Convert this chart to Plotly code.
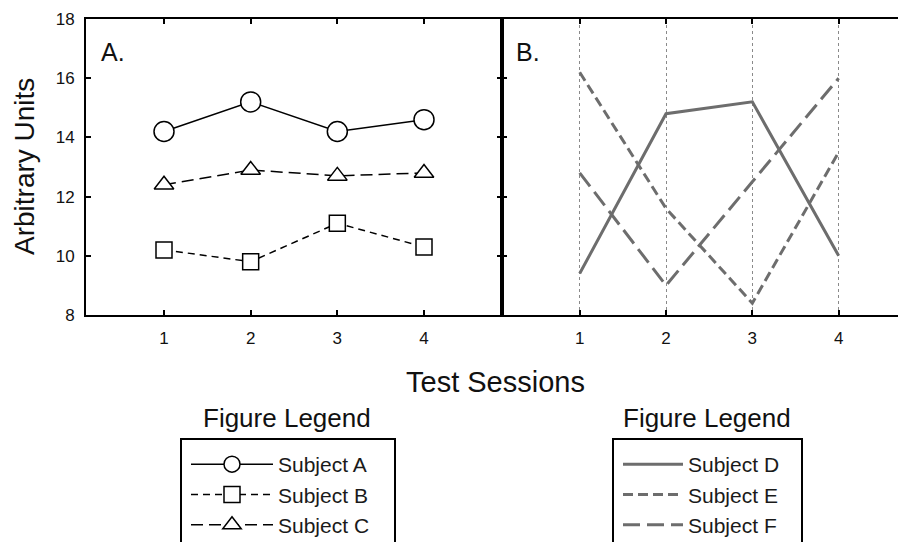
import plotly.graph_objects as go

# page offset: the browser body adds an 8px margin around the figure
OFF = 8
W, H = 906 - OFF, 542 - OFF
L, T, R, B = 86, 19, 906, 315  # plot area in page px

sessions = [1, 2, 3, 4]
subject_a = [14.2, 15.2, 14.2, 14.6]
subject_b = [10.2, 9.8, 11.1, 10.3]
subject_c = [12.4, 12.9, 12.7, 12.8]
subject_d = [9.4, 14.8, 15.2, 10.0]
subject_e = [16.2, 11.6, 8.4, 13.5]
subject_f = [12.8, 9.0, 12.5, 16.0]
y_ticks = [8, 10, 12, 14, 16, 18]

def px(x):
    return (x - L) / (R - L)

def py(y):
    return (B - y) / (B - T)

def cx(x):
    return (x - OFF) / W

def cy(y):
    return 1 - (y - OFF) / H

split = px(502)
FONT = "Liberation Sans, Arial, sans-serif"
GRAY = "#6d6d6d"

fig = go.Figure()

mk = dict(color="white", line=dict(color="black", width=1.5))
fig.add_trace(go.Scatter(x=sessions, y=subject_a, name="Subject A", mode="lines+markers",
                         line=dict(color="black", width=1.5),
                         marker=dict(symbol="circle", size=20, **mk), xaxis="x", yaxis="y", legend="legend"))
fig.add_trace(go.Scatter(x=sessions, y=subject_b, name="Subject B", mode="lines+markers",
                         line=dict(color="black", width=1.5, dash="7px,5px"),
                         marker=dict(symbol="square", size=16, **mk), xaxis="x", yaxis="y", legend="legend"))
fig.add_trace(go.Scatter(x=sessions, y=subject_c, name="Subject C", mode="lines+markers",
                         line=dict(color="black", width=1.5, dash="12px,6px"),
                         marker=dict(symbol="triangle-up", size=17, **mk), xaxis="x", yaxis="y", legend="legend"))

fig.add_trace(go.Scatter(x=sessions, y=subject_d, name="Subject D", mode="lines",
                         line=dict(color=GRAY, width=3), xaxis="x2", yaxis="y2", legend="legend2"))
fig.add_trace(go.Scatter(x=sessions, y=subject_e, name="Subject E", mode="lines",
                         line=dict(color=GRAY, width=3, dash="10px,5px"), xaxis="x2", yaxis="y2", legend="legend2"))
fig.add_trace(go.Scatter(x=sessions, y=subject_f, name="Subject F", mode="lines",
                         line=dict(color=GRAY, width=3, dash="17px,7px"), xaxis="x2", yaxis="y2", legend="legend2"))

axis_common = dict(showline=True, linecolor="black", linewidth=2, ticks="inside", ticklen=5,
                   tickwidth=2, tickcolor="black", zeroline=False,
                   tickfont=dict(family=FONT, size=17, color="#111"))

fig.update_layout(
    width=W, height=H,
    margin=dict(l=L - OFF, r=0, t=T - OFF, b=H - (B - OFF), autoexpand=False),
    paper_bgcolor="white", plot_bgcolor="white",
    font=dict(family=FONT, color="black"),
    xaxis=dict(domain=[0, split], range=[0.1, 4.9], tickvals=sessions, mirror="ticks",
               showgrid=False, ticklabelstandoff=7, **axis_common),
    yaxis=dict(domain=[0, 1], range=[8, 18], tickvals=y_ticks, mirror="ticks",
               showgrid=False, ticklabelstandoff=6, **axis_common),
    xaxis2=dict(domain=[split, 1], range=[0.1, 4.78], tickvals=sessions, mirror="ticks",
                showgrid=True, gridcolor="#8a8a8a", gridwidth=1, griddash="dot",
                ticklabelstandoff=7, anchor="y2", **axis_common),
    yaxis2=dict(domain=[0, 1], range=[8, 18], tickvals=y_ticks, showticklabels=False,
                showgrid=False, anchor="x2", **axis_common),
    legend=dict(xref="container", yref="container", x=cx(186), y=cy(444),
                xanchor="left", yanchor="top", bgcolor="rgba(0,0,0,0)", borderwidth=0,
                itemwidth=82, tracegroupgap=0,
                font=dict(family=FONT, size=21, color="#1a1a1a")),
    legend2=dict(xref="container", yref="container", x=cx(618), y=cy(444),
                 xanchor="left", yanchor="top", bgcolor="rgba(0,0,0,0)", borderwidth=0,
                 itemwidth=60, tracegroupgap=0,
                 font=dict(family=FONT, size=21, color="#1a1a1a")),
    showlegend=True,
)

annos = [
    dict(text="A.", x=px(99), y=py(52), xanchor="left", yanchor="middle", size=25),
    dict(text="B.", x=px(514), y=py(52), xanchor="left", yanchor="middle", size=25),
    dict(text="Test Sessions", x=px(495), y=py(382), xanchor="center", yanchor="middle", size=29),
    dict(text="Figure Legend", x=px(287), y=py(418), xanchor="center", yanchor="middle", size=26),
    dict(text="Figure Legend", x=px(707), y=py(418), xanchor="center", yanchor="middle", size=26),
]
for a in annos:
    fig.add_annotation(text=a["text"], x=a["x"], y=a["y"], xref="paper", yref="paper",
                       xanchor=a["xanchor"], yanchor=a["yanchor"], showarrow=False,
                       font=dict(family=FONT, size=a["size"], color="#111"))
fig.add_annotation(text="Arbitrary Units", x=px(24), y=py(167), xref="paper", yref="paper",
                   textangle=-90, showarrow=False, xanchor="center", yanchor="middle",
                   font=dict(family=FONT, size=28, color="#111"))

for x0, x1 in [(181, 395), (613, 802)]:
    fig.add_shape(type="rect", xref="paper", yref="paper", x0=px(x0), x1=px(x1),
                  y0=py(439), y1=py(580), line=dict(color="black", width=2), layer="below")

fig.write_html("out.html")
